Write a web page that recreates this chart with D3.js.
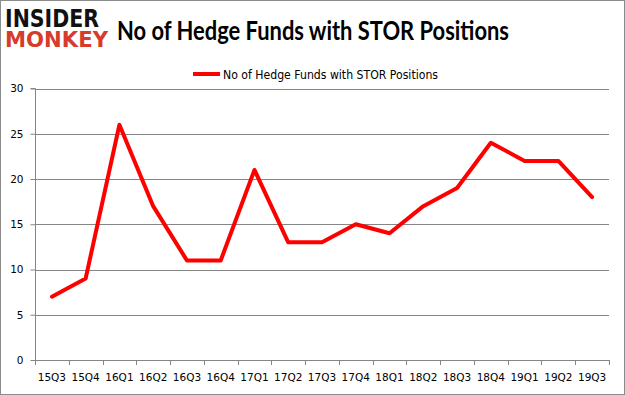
<!DOCTYPE html>
<html><head><meta charset="utf-8">
<script src="https://cdn.jsdelivr.net/npm/d3@7"></script>
<style>body{margin:0;background:#fff}svg{display:block}</style>
</head><body>
<svg id="c" width="625" height="395"></svg>
<script>
const categories = ["15Q3","15Q4","16Q1","16Q2","16Q3","16Q4","17Q1","17Q2","17Q3","17Q4","18Q1","18Q2","18Q3","18Q4","19Q1","19Q2","19Q3"];
const values = [7,9,26,17,11,11,21,13,13,15,14,17,19,24,22,22,18];
const yTicks = [0,5,10,15,20,25,30];
const seriesName = "No of Hedge Funds with STOR Positions";
const title = "No of Hedge Funds with STOR Positions";

(function(){
const svg = d3.select("#c");
const pLeft = 35, pRight = 609, pTop = 88.5, pBottom = 360;
svg.append("rect").attr("x",0.5).attr("y",0.5).attr("width",624).attr("height",394).attr("fill","#fff").attr("stroke","#8c8c8c");

const x = d3.scaleBand().domain(categories).range([pLeft,pRight]);
const y = d3.scaleLinear().domain([0,30]).range([pBottom,pTop]);

svg.append("g").selectAll("line").data(yTicks.filter(d=>d>0)).join("line")
  .attr("x1",pLeft).attr("x2",pRight).attr("y1",d=>Math.round(y(d))+0.5).attr("y2",d=>Math.round(y(d))+0.5)
  .attr("stroke","#868686").attr("stroke-width",1);

const ya = svg.append("g").attr("transform",`translate(${pLeft+0.5},0)`)
  .call(d3.axisLeft(y).tickValues(yTicks).tickSize(5).tickPadding(7));
ya.select(".domain").attr("stroke","#868686").attr("d",`M-5,${pTop}H0V${pBottom}`);
ya.selectAll(".tick line").attr("stroke","#868686");
ya.selectAll(".tick text").attr("font-family","DejaVu Sans, Verdana, sans-serif").attr("font-size","10.5px").attr("fill","#000");

const xa = svg.append("g").attr("transform",`translate(0,${pBottom+0.5})`)
  .call(d3.axisBottom(x).tickSize(0).tickPadding(13));
xa.select(".domain").attr("stroke","#868686").attr("d",`M${pLeft},0H${pRight}`);
xa.selectAll(".tick text").attr("font-family","DejaVu Sans, Verdana, sans-serif").attr("font-size","10.5px").attr("fill","#000");
const bounds = categories.map(c=>x(c)).concat([pRight]);
svg.append("g").selectAll("line").data(bounds).join("line")
  .attr("x1",d=>Math.round(d)+0.5).attr("x2",d=>Math.round(d)+0.5)
  .attr("y1",pBottom).attr("y2",pBottom+5).attr("stroke","#868686");

const line = d3.line().x((d,i)=>x(categories[i])+x.bandwidth()/2).y(d=>y(d));
svg.append("path").datum(values).attr("d",line).attr("fill","none")
  .attr("stroke","#ff0000").attr("stroke-width",4).attr("stroke-linejoin","round").attr("stroke-linecap","round");

svg.append("text").attr("x",117).attr("y",39.5).text(title)
  .attr("font-family","Lato, 'Open Sans', sans-serif").attr("font-weight","bold").attr("font-size","26px")
  .attr("textLength",392).attr("lengthAdjust","spacingAndGlyphs").attr("fill","#000");

svg.append("line").attr("x1",193).attr("x2",220).attr("y1",74).attr("y2",74).attr("stroke","#ff0000").attr("stroke-width",4);
svg.append("text").attr("x",223).attr("y",78.5).text(seriesName)
  .attr("font-family","DejaVu Sans, Verdana, sans-serif").attr("font-size","12px")
  .attr("textLength",215).attr("lengthAdjust","spacingAndGlyphs").attr("fill","#000");

svg.append("text").attr("x",5).attr("y",27).text("INSIDER")
  .attr("font-family","'DejaVu Sans', sans-serif").attr("font-weight","bold").attr("font-size","25px")
  .attr("textLength",94).attr("lengthAdjust","spacingAndGlyphs").attr("fill","#111");
svg.append("text").attr("x",5).attr("y",47).text("MONKEY")
  .attr("font-family","'DejaVu Sans', sans-serif").attr("font-weight","bold").attr("font-size","22px")
  .attr("textLength",103).attr("lengthAdjust","spacingAndGlyphs").attr("fill","#d63b2b");
})();
</script>
</body></html>
